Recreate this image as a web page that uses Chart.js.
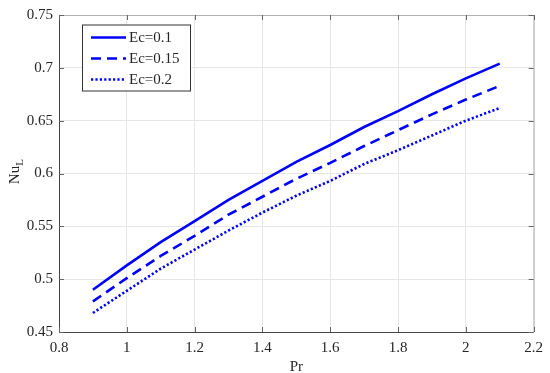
<!DOCTYPE html>
<html>
<head>
<meta charset="utf-8">
<script src="https://cdn.jsdelivr.net/npm/chart.js@4/dist/chart.umd.min.js"></script>
<style>
  html, body { margin: 0; padding: 0; background: #fff; }
  #wrap { width: 550px; height: 373px; }
</style>
</head>
<body>
<div id="wrap"><canvas id="nuChart" width="550" height="373"></canvas></div>
<script>
// data
const pr = [0.9, 1.0, 1.1, 1.2, 1.3, 1.4, 1.5, 1.6, 1.7, 1.8, 1.9, 2.0, 2.1];
const nuEc01 = [0.490, 0.513, 0.535, 0.555, 0.575, 0.593, 0.611, 0.627, 0.644, 0.659, 0.675, 0.690, 0.704];
const nuEc015 = [0.479, 0.501, 0.522, 0.541, 0.561, 0.578, 0.595, 0.610, 0.626, 0.641, 0.656, 0.670, 0.683];
const nuEc02 = [0.468, 0.489, 0.510, 0.528, 0.546, 0.563, 0.579, 0.593, 0.609, 0.622, 0.636, 0.650, 0.662];
const labels = ['Ec=0.1', 'Ec=0.15', 'Ec=0.2'];
const xTicks = [0.8, 1, 1.2, 1.4, 1.6, 1.8, 2, 2.2];
const yTicks = [0.45, 0.5, 0.55, 0.6, 0.65, 0.7, 0.75];

const FONT = '"Liberation Serif", "Times New Roman", serif';
const BLUE = '#0000ff';

const pts = ys => pr.map((x, i) => ({ x: x, y: ys[i] }));

// box, inner ticks, legend and y title (MATLAB look)
const matlabBox = {
  id: 'matlabBox',
  afterDraw(chart) {
    const c = chart.ctx;
    const a = chart.chartArea;
    const xs = chart.scales.x, ys = chart.scales.y;
    c.save();
    // box
    c.lineWidth = 1;
    c.strokeStyle = '#b0b0b0';
    c.beginPath();
    c.moveTo(a.left, a.top + 0.5); c.lineTo(a.right + 0.5, a.top + 0.5); c.lineTo(a.right + 0.5, a.bottom);
    c.stroke();
    c.strokeStyle = '#444';
    c.beginPath();
    c.moveTo(a.left + 0.5, a.top); c.lineTo(a.left + 0.5, a.bottom + 0.5); c.lineTo(a.right, a.bottom + 0.5);
    c.stroke();
    // inward ticks
    c.strokeStyle = '#666';
    c.beginPath();
    xTicks.forEach(v => {
      const px = Math.round(xs.getPixelForValue(v)) + 0.5;
      c.moveTo(px, a.top); c.lineTo(px, a.top + 5);
      c.moveTo(px, a.bottom); c.lineTo(px, a.bottom - 5);
    });
    yTicks.forEach(v => {
      const py = Math.round(ys.getPixelForValue(v)) + 0.5;
      c.moveTo(a.left, py); c.lineTo(a.left + 5, py);
      c.moveTo(a.right, py); c.lineTo(a.right - 5, py);
    });
    c.stroke();

    // legend
    const lx = 82, ly = 24.5, lw = 108, lh = 66;
    c.fillStyle = '#fff';
    c.fillRect(lx, ly, lw, lh);
    c.strokeStyle = '#333';
    c.lineWidth = 1;
    c.strokeRect(lx + 0.5, ly + 0.5, lw, lh);
    c.font = '15px ' + FONT;
    c.textBaseline = 'middle';
    c.textAlign = 'left';
    chart.data.datasets.forEach((ds, i) => {
      const ry = 37.5 + i * 21;
      c.strokeStyle = ds.borderColor;
      c.lineWidth = ds.borderWidth;
      c.setLineDash(ds.borderDash || []);
      c.beginPath();
      c.moveTo(91, ry); c.lineTo(126, ry);
      c.stroke();
      c.setLineDash([]);
      c.fillStyle = '#262626';
      c.fillText(ds.label, 129, ry + 1);
    });

    // y title Nu with subscript L
    c.translate(19, 172);
    c.rotate(-Math.PI / 2);
    c.fillStyle = '#262626';
    c.textBaseline = 'alphabetic';
    c.textAlign = 'left';
    c.font = '15px ' + FONT;
    const w = c.measureText('Nu').width;
    c.fillText('Nu', -w / 2 - 3, 0);
    c.font = '11px ' + FONT;
    c.fillText('L', w / 2 - 3, 4);
    c.restore();
  }
};

new Chart(document.getElementById('nuChart'), {
  type: 'line',
  data: {
    datasets: [
      { label: labels[0], data: pts(nuEc01), borderColor: BLUE, borderWidth: 2.6, borderDash: [] },
      { label: labels[1], data: pts(nuEc015), borderColor: BLUE, borderWidth: 2.6, borderDash: [10, 6] },
      { label: labels[2], data: pts(nuEc02), borderColor: BLUE, borderWidth: 2.6, borderDash: [2.2, 2.2] }
    ]
  },
  options: {
    responsive: false,
    animation: false,
    devicePixelRatio: 1,
    layout: { padding: { top: 8, right: 10, left: 0, bottom: 0 } },
    elements: { point: { radius: 0 }, line: { tension: 0, borderCapStyle: 'butt' } },
    plugins: { legend: { display: false }, tooltip: { enabled: false } },
    scales: {
      x: {
        type: 'linear', min: 0.8, max: 2.2,
        afterBuildTicks: s => { s.ticks = xTicks.map(v => ({ value: v })); },
        afterFit: s => { s.height = 41; },
        grid: { color: '#e6e6e6', drawTicks: false },
        border: { display: false },
        ticks: { color: '#262626', padding: 7, font: { family: FONT, size: 15 }, callback: v => String(v) },
        title: { display: true, text: 'Pr', color: '#262626', padding: { top: 0, bottom: -3 }, font: { family: FONT, size: 15 } }
      },
      y: {
        type: 'linear', min: 0.45, max: 0.75,
        afterBuildTicks: s => { s.ticks = yTicks.map(v => ({ value: v })); },
        afterFit: s => { s.width = 59; },
        grid: { color: '#e6e6e6', drawTicks: false },
        border: { display: false },
        ticks: { color: '#262626', padding: 6, font: { family: FONT, size: 15 }, callback: v => String(v) }
      }
    }
  },
  plugins: [matlabBox]
});
</script>
</body>
</html>
